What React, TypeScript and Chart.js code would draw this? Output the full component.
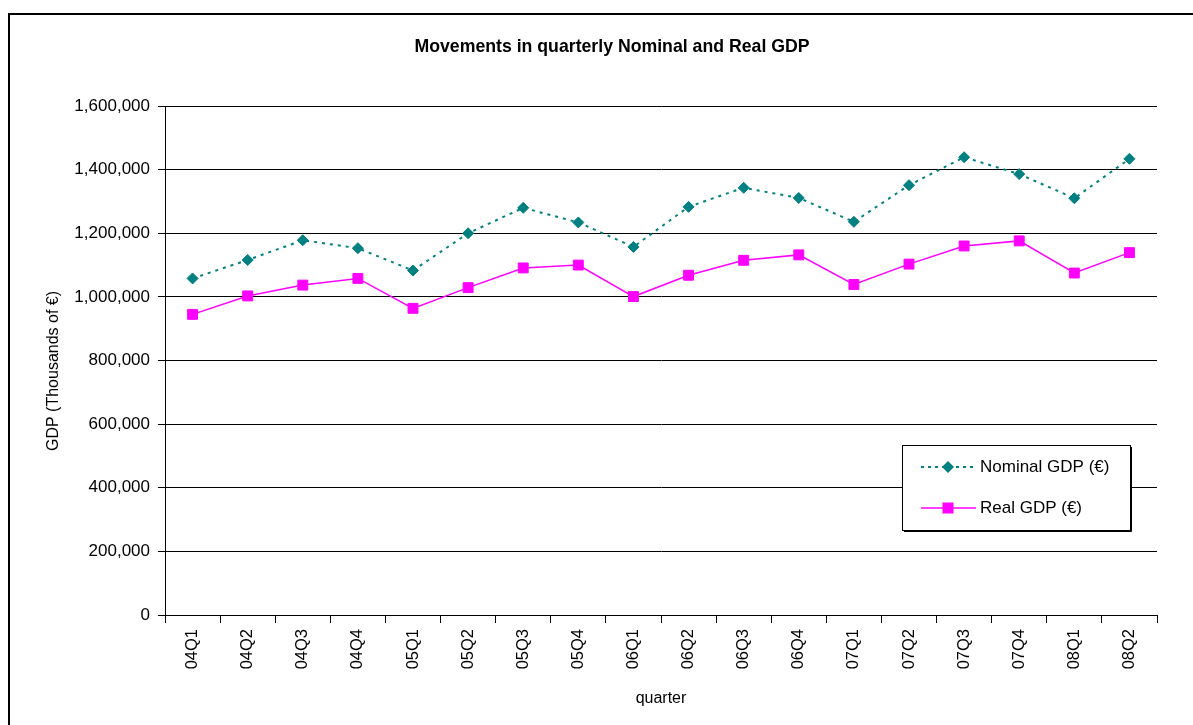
import React, { useEffect, useRef } from "react";
import { Chart, registerables } from "chart.js";

Chart.register(...registerables);

const quarters = ["04Q1","04Q2","04Q3","04Q4","05Q1","05Q2","05Q3","05Q4","06Q1","06Q2","06Q3","06Q4","07Q1","07Q2","07Q3","07Q4","08Q1","08Q2"];
const nominalGDP = [1058000,1116000,1178000,1153000,1083000,1200000,1280000,1234000,1157000,1283000,1343000,1311000,1236000,1351000,1439000,1386000,1310000,1434000];
const realGDP = [945000,1003000,1037000,1058000,964000,1029000,1091000,1100000,1001000,1068000,1115000,1132000,1039000,1103000,1160000,1176000,1075000,1139000];
const yTicks = [0,200000,400000,600000,800000,1000000,1200000,1400000,1600000];

const TITLE = "Movements in quarterly Nominal and Real GDP";
const Y_TITLE = "GDP (Thousands of \u20ac)";
const X_TITLE = "quarter";
const LEG_NOMINAL = "Nominal GDP (\u20ac)";
const LEG_REAL = "Real GDP (\u20ac)";

const FONT = "'Liberation Sans', Arial, sans-serif";
const TEAL = "#008080";
const MAGENTA = "#FF00FF";

export default function App() {
  const ref = useRef<HTMLCanvasElement | null>(null);
  useEffect(() => {
    if (!ref.current) return;
    const decor = {
      id: "decor",
      beforeDraw(chart: any) {
        const ctx = chart.ctx;
        ctx.save();
        ctx.fillStyle = "#fff";
        ctx.fillRect(0, 0, chart.width, chart.height);
        ctx.strokeStyle = "#000";
        ctx.lineWidth = 2;
        ctx.strokeRect(9, 14, 1400, 900);
        ctx.restore();
      },
      afterDraw(chart: any) {
        const ctx = chart.ctx;
        ctx.save();
        ctx.fillStyle = "#000";
        ctx.font = `bold 17.7px ${FONT}`;
        ctx.textAlign = "center";
        ctx.textBaseline = "middle";
        ctx.fillText(TITLE, 612, 47);
        ctx.font = `16px ${FONT}`;
        ctx.fillText(X_TITLE, 661, 699);
        ctx.save();
        ctx.translate(54, 371);
        ctx.rotate(-Math.PI / 2);
        ctx.fillText(Y_TITLE, 0, 0);
        ctx.restore();
        // legend
        ctx.fillStyle = "#fff";
        ctx.fillRect(902, 445, 228, 85);
        ctx.strokeStyle = "#000";
        ctx.lineWidth = 1;
        ctx.strokeRect(902.5, 445.5, 228, 85);
        ctx.beginPath();
        ctx.moveTo(1131.5, 447);
        ctx.lineTo(1131.5, 531.5);
        ctx.lineTo(904, 531.5);
        ctx.stroke();
        // nominal
        ctx.strokeStyle = TEAL;
        ctx.lineWidth = 2;
        ctx.setLineDash([3, 4]);
        ctx.beginPath();
        ctx.moveTo(921, 467);
        ctx.lineTo(974, 467);
        ctx.stroke();
        ctx.setLineDash([]);
        ctx.fillStyle = TEAL;
        ctx.beginPath();
        ctx.moveTo(948, 461);
        ctx.lineTo(954, 467);
        ctx.lineTo(948, 473);
        ctx.lineTo(942, 467);
        ctx.closePath();
        ctx.fill();
        // real
        ctx.strokeStyle = MAGENTA;
        ctx.lineWidth = 1.5;
        ctx.beginPath();
        ctx.moveTo(921, 508);
        ctx.lineTo(976, 508);
        ctx.stroke();
        ctx.fillStyle = MAGENTA;
        ctx.fillRect(942.5, 502.5, 11, 11);
        ctx.fillStyle = "#000";
        ctx.font = `17px ${FONT}`;
        ctx.textAlign = "left";
        ctx.fillText(LEG_NOMINAL, 980, 467);
        ctx.fillText(LEG_REAL, 980, 508);
        ctx.restore();
      },
    };
    const chart = new Chart(ref.current, {
      type: "line",
      data: {
        labels: quarters,
        datasets: [
          {
            label: LEG_NOMINAL,
            data: nominalGDP,
            borderColor: TEAL,
            backgroundColor: TEAL,
            borderWidth: 2,
            borderDash: [3, 5],
            pointStyle: "rectRot",
            pointRadius: 5.5,
            pointBorderWidth: 1,
            pointBorderColor: TEAL,
            pointBackgroundColor: TEAL,
            tension: 0,
            fill: false,
          },
          {
            label: LEG_REAL,
            data: realGDP,
            borderColor: MAGENTA,
            backgroundColor: MAGENTA,
            borderWidth: 1.5,
            pointStyle: "rect",
            pointRadius: 7,
            pointBorderWidth: 1,
            pointBorderColor: MAGENTA,
            pointBackgroundColor: MAGENTA,
            tension: 0,
            fill: false,
          },
        ],
      },
      options: {
        responsive: false,
        animation: false,
        events: [],
        layout: { padding: { top: 106, right: 36, left: 0, bottom: 0 } },
        plugins: {
          legend: { display: false },
          title: { display: false },
          tooltip: { enabled: false },
        },
        scales: {
          x: {
            offset: true,
            grid: {
              offset: true,
              drawOnChartArea: false,
              drawTicks: true,
              tickLength: 8,
              color: "#000",
            },
            border: { display: true, color: "#000", width: 1 },
            ticks: {
              color: "#000",
              font: { family: FONT, size: 16.5 },
              minRotation: 90,
              maxRotation: 90,
              padding: 6,
              autoSkip: false,
            },
            afterFit(scale: any) {
              scale.height = 110;
            },
          },
          y: {
            min: 0,
            max: 1600000,
            afterBuildTicks(scale: any) {
              scale.ticks = yTicks.map((v) => ({ value: v }));
            },
            grid: {
              color: "#000",
              lineWidth: 1,
              drawTicks: true,
              tickLength: 7,
            },
            border: { display: true, color: "#000", width: 1 },
            ticks: {
              color: "#000",
              font: { family: FONT, size: 17 },
              padding: 8,
              callback: (v: any) => Number(v).toLocaleString("en-US"),
            },
            afterFit(scale: any) {
              scale.width = 165;
            },
          },
        },
      },
      plugins: [decor],
    });
    return () => chart.destroy();
  }, []);
  return (
    <div style={{ position: "fixed", left: 0, top: 0, width: 1193, height: 725, overflow: "hidden" }}>
      <canvas ref={ref} width={1193} height={725} style={{ display: "block" }} />
    </div>
  );
}
